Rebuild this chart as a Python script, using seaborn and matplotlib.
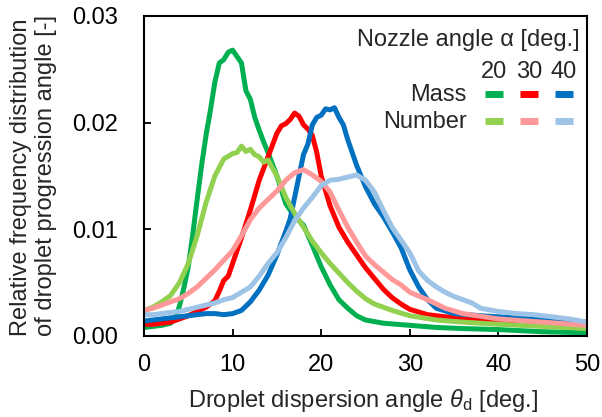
import matplotlib
matplotlib.use("Agg")
import matplotlib.pyplot as plt
import seaborn as sns
import pandas as pd
from matplotlib.lines import Line2D
from matplotlib.ticker import FormatStrFormatter

# ---------------- data ----------------
mass20_x = [0, 1, 2, 3, 3.5, 4, 4.5, 5, 5.5, 6, 6.5, 7, 7.5, 8, 8.5, 9, 9.5, 10, 10.5, 11,
            11.5, 12, 12.5, 13, 13.5, 14, 15, 16, 17, 18, 19, 20, 21, 22, 23, 24, 25, 27, 30, 33,
            36, 40, 45, 50]
mass20_y = [0.0008, 0.0009, 0.0010, 0.0012, 0.0016, 0.0028, 0.0045, 0.0065, 0.0095, 0.0128,
            0.0160, 0.0188, 0.0212, 0.0238, 0.0256, 0.0259, 0.0266, 0.0268, 0.0262, 0.0256,
            0.0230, 0.0222, 0.0205, 0.0193, 0.0182, 0.0172, 0.0150, 0.0124, 0.0112, 0.0104,
            0.0085, 0.0065, 0.0048, 0.0034, 0.0026, 0.0019, 0.0015, 0.0012, 0.0010, 0.0008,
            0.0007, 0.0006, 0.0004, 0.0003]

num20_x = [0, 1, 2, 3, 4, 5, 6, 7, 8, 9, 10, 10.5, 11, 11.5, 12, 12.5, 13, 13.5, 14, 15,
           16, 17, 18, 19, 20, 21, 22, 23, 24, 25, 26, 27, 28, 30, 33, 36, 40, 45, 50]
num20_y = [0.0024, 0.0027, 0.0032, 0.0038, 0.0050, 0.0068, 0.0094, 0.0125, 0.0150, 0.0166,
           0.0171, 0.0172, 0.0178, 0.0173, 0.0175, 0.0170, 0.0168, 0.0163, 0.0165, 0.0150,
           0.0130, 0.0115, 0.0102, 0.0089, 0.0078, 0.0068, 0.0059, 0.0050, 0.0042,
           0.0035, 0.0030, 0.0027, 0.0024, 0.0019, 0.0015, 0.0013, 0.0011, 0.0009, 0.0007]

mass30_x = [0, 1, 2, 3, 4, 5, 6, 7, 8, 8.5, 9, 9.5, 10, 11, 12, 13, 14, 15, 15.5, 16, 16.5,
            17, 17.5, 18, 18.5, 19, 19.5, 20, 21, 22, 23, 24, 25, 26, 27, 28, 29, 30, 32, 34,
            37, 40, 45, 50]
mass30_y = [0.0011, 0.0011, 0.0012, 0.0013, 0.0016, 0.0019, 0.0023, 0.0027, 0.0033,
            0.0042, 0.0052, 0.0056, 0.0068, 0.0092, 0.0118, 0.0146, 0.0168, 0.0190,
            0.0197, 0.0199, 0.0203, 0.0209, 0.0206, 0.0198, 0.0194, 0.0188, 0.0172, 0.0150,
            0.0122, 0.0102, 0.0088, 0.0076, 0.0064, 0.0054, 0.0044, 0.0036, 0.0030, 0.0025,
            0.0020, 0.0018, 0.0016, 0.0013, 0.0010, 0.0009]

num30_x = [0, 1, 2, 3, 4, 5, 6, 7, 8, 9, 10, 11, 12, 13, 14, 15, 16, 17, 18, 19, 20, 21, 22,
           23, 24, 25, 26, 27, 28, 29, 30, 32, 34, 36, 40, 45, 50]
num30_y = [0.0024, 0.0026, 0.0029, 0.0032, 0.0035, 0.0040, 0.0046, 0.0054, 0.0062, 0.0071,
           0.0080, 0.0094, 0.0109, 0.0120, 0.0128, 0.0136, 0.0146, 0.0153, 0.0156, 0.0151,
           0.0145, 0.0135, 0.0118, 0.0102, 0.0088, 0.0075, 0.0067, 0.0060, 0.0053, 0.0048,
           0.0041, 0.0034, 0.0026, 0.0021, 0.0016, 0.0013, 0.0010]

mass40_x = [0, 1, 2, 3, 4, 5, 6, 7, 8, 9, 10, 11, 12, 13, 14, 15, 16, 16.5, 17, 17.5, 18,
            18.5, 19, 19.5, 20, 20.5, 21, 21.5, 22, 22.5, 23, 24, 25, 26, 27, 28, 29, 30, 31,
            32, 33, 35, 38, 42, 46, 50]
mass40_y = [0.0014, 0.0015, 0.0016, 0.0017, 0.0018, 0.0019, 0.0020, 0.0021, 0.0021, 0.0020,
            0.0021, 0.0024, 0.0032, 0.0043, 0.0057, 0.0076, 0.0098, 0.0110, 0.0130, 0.0150,
            0.0170, 0.0180, 0.0198, 0.0205, 0.0207, 0.0213, 0.0212, 0.0214, 0.0205, 0.0198,
            0.0184, 0.0160, 0.0140, 0.0124, 0.0112, 0.0098, 0.0083, 0.0062, 0.0046, 0.0034,
            0.0026, 0.0021, 0.0019, 0.0017, 0.0015, 0.0013]

num40_x = [0, 1, 2, 3, 4, 5, 6, 7, 8, 9, 10, 11, 12, 13, 14, 15, 16, 17, 18, 19, 20, 21, 22,
           23, 24, 25, 26, 27, 28, 29, 30, 31, 32, 33, 34, 35, 36, 37, 38, 40, 42, 44, 46, 48, 50]
num40_y = [0.0020, 0.0020, 0.0021, 0.0022, 0.0023, 0.0025, 0.0027, 0.0029, 0.0031, 0.0034,
           0.0036, 0.0041, 0.0046, 0.0056, 0.0068, 0.0078, 0.0092, 0.0108, 0.0120, 0.0130,
           0.0141, 0.0146, 0.0147, 0.0149, 0.0151, 0.0146, 0.0135, 0.0118, 0.0102, 0.0090,
           0.0078, 0.0061, 0.0052, 0.0046, 0.0041, 0.0037, 0.0034, 0.0031, 0.0026, 0.0023,
           0.0021, 0.0020, 0.0018, 0.0016, 0.0013]

nozzle_angles = ["20", "30", "40"]
row_labels = ["Mass", "Number"]
mass_colors = ["#00B050", "#FF0000", "#0070C0"]
number_colors = ["#92D050", "#FF9999", "#9DC3E6"]
x_ticks = [0, 10, 20, 30, 40, 50]
y_ticks = [0.00, 0.01, 0.02, 0.03]

# ---------------- style ----------------
sns.set_style("ticks")
plt.rcParams["font.family"] = ["Liberation Sans", "DejaVu Sans"]
plt.rcParams["mathtext.fontset"] = "custom"
plt.rcParams["mathtext.rm"] = "Liberation Sans"
plt.rcParams["mathtext.it"] = "Liberation Sans:italic"

FS = 17
W, H = 602, 417
fig = plt.figure(figsize=(W / 100, H / 100), dpi=100)
ax = fig.add_axes([144 / W, 1 - 336 / H, (587 - 144) / W, (336 - 16) / H])

series = [
    (mass20_x, mass20_y, mass_colors[0]),
    (mass30_x, mass30_y, mass_colors[1]),
    (mass40_x, mass40_y, mass_colors[2]),
    (num20_x, num20_y, number_colors[0]),
    (num30_x, num30_y, number_colors[1]),
    (num40_x, num40_y, number_colors[2]),
]
for xs, ys, c in series:
    df = pd.DataFrame({"x": xs, "y": ys})
    sns.lineplot(data=df, x="x", y="y", color=c, lw=3.6, ax=ax, sort=False,
                 estimator=None, solid_joinstyle="round", solid_capstyle="round")

ax.set_xlim(0, 50)
ax.set_ylim(0, 0.03)
ax.set_xticks(x_ticks)
ax.set_yticks(y_ticks)
ax.yaxis.set_major_formatter(FormatStrFormatter("%.2f"))
ax.tick_params(direction="in", length=5, width=1.3, labelsize=FS, colors="black")
ax.tick_params(axis="y", pad=19)
ax.tick_params(axis="x", pad=13)
for s in ax.spines.values():
    s.set_linewidth(1.5)
    s.set_color("black")
    s.set_visible(True)

ax.set_xlabel(r"Droplet dispersion angle $\theta_\mathrm{d}$ [deg.]", fontsize=FS)
ax.xaxis.set_label_coords(363 / W, 1 - 387 / H, transform=fig.transFigure)
ax.set_ylabel("Relative frequency distribution\nof droplet progression angle [-]",
              fontsize=FS, multialignment="left")
ax.yaxis.set_label_coords(57 / W, 1 - 176 / H, transform=fig.transFigure)

# ---------------- custom legend ----------------
def fx(px):
    return px / W

def fy(py):
    return 1 - py / H

fig.text(fx(580), fy(40), "Nozzle angle α [deg.]", ha="right", va="center", fontsize=FS)
col_centers = [494, 529, 564]
for cx, lab in zip(col_centers, nozzle_angles):
    fig.text(fx(cx), fy(72), lab, ha="center", va="center", fontsize=FS)
row_y = [95, 122]
for ry, lab, cols in zip(row_y, row_labels, [mass_colors, number_colors]):
    fig.text(fx(467), fy(ry), lab, ha="right", va="center", fontsize=FS)
    for cx, c in zip(col_centers, cols):
        fig.add_artist(Line2D([fx(cx - 9), fx(cx + 9)], [fy(ry - 1), fy(ry - 1)],
                              transform=fig.transFigure, color=c, lw=5,
                              solid_capstyle="butt"))

fig.savefig("out.png", dpi=100)
